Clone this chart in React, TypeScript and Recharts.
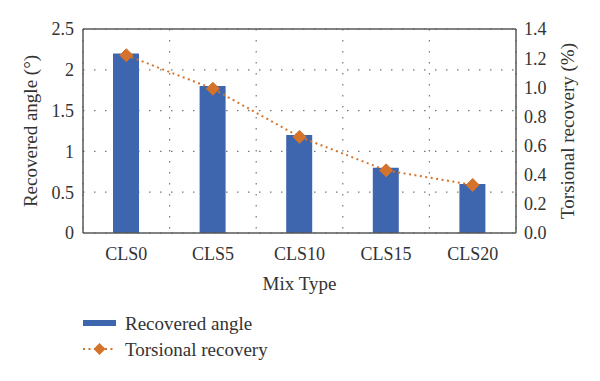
import React from 'react';
import {
  ComposedChart, Bar, Line, XAxis, YAxis, CartesianGrid, ReferenceLine, Legend,
} from 'recharts';

const categories = ['CLS0', 'CLS5', 'CLS10', 'CLS15', 'CLS20'];
const recoveredAngle = [2.2, 1.8, 1.2, 0.8, 0.6];
const torsionalRecovery = [1.22, 0.99, 0.66, 0.43, 0.33];
const leftTicks = [0, 0.5, 1, 1.5, 2, 2.5];
const rightTicks = [0, 0.2, 0.4, 0.6, 0.8, 1.0, 1.2, 1.4];
const gridBoundaries = [1, 2, 3, 4];

const data = categories.map((c, i) => ({
  name: c,
  idx: i + 0.5,
  angle: recoveredAngle[i],
  torsional: torsionalRecovery[i],
}));

const BLUE = '#3E66AE';
const ORANGE = '#D4742C';
const FRAME = '#595959';
const FONT = '"Liberation Serif", "DejaVu Serif", serif';
const TEXT = '#333333';

const Diamond = (props: any) => {
  const { cx, cy } = props;
  if (cx == null || cy == null) return null;
  const r = 6.5;
  return (
    <path
      d={`M${cx},${cy - r} L${cx + r},${cy} L${cx},${cy + r} L${cx - r},${cy} Z`}
      fill={ORANGE}
      stroke={ORANGE}
    />
  );
};

const LegendContent = () => (
  <svg width={260} height={60} style={{ overflow: 'visible' }}>
    <rect x={0} y={10} width={33} height={6} fill={BLUE} />
    <text x={42} y={13} dominantBaseline="central" fontFamily={FONT} fontSize={19} fill={TEXT}>
      Recovered angle
    </text>
    <line x1={0} y1={39} x2={33} y2={39} stroke={ORANGE} strokeWidth={2} strokeDasharray="2 3.5" />
    <path d="M16.5,33 L22.5,39 L16.5,45 L10.5,39 Z" fill={ORANGE} />
    <text x={42} y={39} dominantBaseline="central" fontFamily={FONT} fontSize={19} fill={TEXT}>
      Torsional recovery
    </text>
  </svg>
);

export default function App() {
  return (
    <div style={{ position: 'absolute', left: 0, top: 0, width: 600, height: 381, background: '#fff' }}>
      <ComposedChart
        width={600}
        height={381}
        data={data}
        margin={{ top: 29, right: 0, left: 0, bottom: 88 }}
      >
        <XAxis xAxisId="grid" type="number" dataKey="idx" domain={[0, 5]} ticks={gridBoundaries} hide />
        <CartesianGrid
          xAxisId="grid"
          yAxisId="left"
          stroke="#777"
          strokeDasharray="1.5 9.5"
          strokeWidth={1.2}
        />
        <XAxis
          dataKey="name"
          height={60}
          tickLine={false}
          axisLine={{ stroke: FRAME, strokeWidth: 1.5 }}
          tick={{ fontFamily: FONT, fontSize: 18, fill: TEXT }}
          tickMargin={8}
          label={{ value: 'Mix Type', position: 'insideBottom', offset: 3, fontFamily: FONT, fontSize: 19, fill: TEXT }}
        />
        <YAxis
          yAxisId="left"
          width={83}
          domain={[0, 2.5]}
          ticks={leftTicks}
          tickLine={false}
          axisLine={{ stroke: FRAME, strokeWidth: 1.5 }}
          tick={{ fontFamily: FONT, fontSize: 18, fill: TEXT }}
          tickMargin={3}
          tickFormatter={(v: number) => String(v)}
          label={{ value: 'Recovered angle (°)', angle: -90, position: 'center', dx: -11, fontFamily: FONT, fontSize: 19, fill: TEXT }}
        />
        <YAxis
          yAxisId="right"
          orientation="right"
          width={84}
          domain={[0, 1.4]}
          ticks={rightTicks}
          tickLine={false}
          axisLine={{ stroke: FRAME, strokeWidth: 1.5 }}
          tick={{ fontFamily: FONT, fontSize: 18, fill: TEXT }}
          tickMargin={2}
          tickFormatter={(v: number) => v.toFixed(1)}
          label={{ value: 'Torsional recovery (%)', angle: -90, position: 'center', dx: 9, fontFamily: FONT, fontSize: 19, fill: TEXT }}
        />
        <ReferenceLine yAxisId="left" y={2.5} stroke={FRAME} strokeWidth={1.5} />
        <Bar yAxisId="left" dataKey="angle" name="Recovered angle" fill={BLUE} barSize={26} isAnimationActive={false} />
        <Line
          yAxisId="right"
          dataKey="torsional"
          name="Torsional recovery"
          stroke={ORANGE}
          strokeWidth={2}
          strokeDasharray="2 3.5"
          dot={<Diamond />}
          activeDot={false}
          isAnimationActive={false}
        />
        <Legend
          layout="horizontal"
          verticalAlign="middle"
          align="center"
          content={<LegendContent />}
          wrapperStyle={{ position: 'absolute', left: 83, top: 310, width: 260, height: 60 }}
        />
      </ComposedChart>
    </div>
  );
}
